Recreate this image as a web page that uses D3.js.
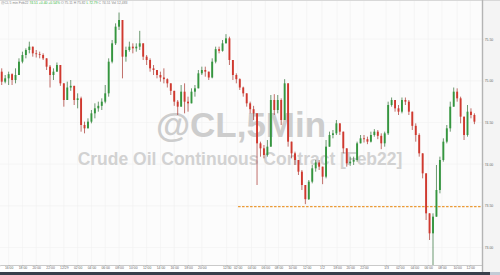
<!DOCTYPE html>
<html>
<head>
<meta charset="utf-8">
<title>@CL,5Min</title>
<script src="https://cdn.jsdelivr.net/npm/d3@7"></script>
<style>
  html, body { margin: 0; padding: 0; background: #fff; }
  svg { display: block; font-family: "Liberation Sans", Arial, sans-serif; }
  .axis text { fill: #666; font-size: 3.4px; }
  .axis line { stroke: #999; stroke-width: 0.5; }
</style>
</head>
<body>
<div id="chart"></div>
<script>
var width = 500, height = 275;
var plotRight = 482, plotBottom = 265;

// 30 min buckets, open = previous close
var firstOpen = 75.11;
var closes = [
  74.99,75.03,75.08,75.01,75.07,75.23,75.31,75.37,75.41,75.33,
  75.32,75.31,75.27,75.17,75.07,75.11,75.19,74.97,74.77,74.92,
  74.94,74.77,74.79,74.47,74.43,74.51,74.61,74.67,74.70,74.75,
  74.85,75.23,75.45,75.65,75.73,75.29,75.37,75.41,75.39,75.41,
  75.45,75.29,75.25,75.15,75.13,75.07,75.04,75.02,74.97,74.88,
  74.75,74.69,74.87,74.75,74.73,74.87,74.91,75.09,75.13,75.11,
  75.04,75.23,75.38,75.36,75.45,75.51,75.25,75.07,75.02,74.92,
  74.85,74.73,74.66,74.61,74.25,74.19,74.11,74.21,74.77,74.65,
  74.77,74.53,74.97,74.27,74.13,74.05,73.91,73.75,73.58,73.79,
  73.95,74.02,73.97,73.85,74.21,74.35,74.37,74.49,74.39,74.19,
  74.01,74.03,74.05,74.25,74.31,74.30,74.27,74.35,74.39,74.34,
  74.25,74.37,74.71,74.77,74.67,74.63,74.77,74.75,74.63,74.46,
  74.35,74.13,73.89,73.41,73.17,73.37,73.69,74.05,74.27,74.43,
  74.69,74.87,74.79,74.57,74.35,74.63,74.59,74.51
];
var highs = [
  75.15,75.07,75.11,75.09,75.15,75.27,75.35,75.39,75.47,75.41,
  75.37,75.35,75.33,75.27,75.19,75.15,75.22,75.19,74.97,74.99,
  75.01,74.93,74.85,74.81,74.51,74.55,74.65,74.73,74.75,74.79,
  74.95,75.27,75.49,75.69,75.82,75.73,75.41,75.47,75.45,75.45,
  75.60,75.45,75.31,75.27,75.19,75.13,75.11,75.15,75.03,74.97,
  74.87,74.77,74.95,74.97,74.81,74.91,74.95,75.13,75.17,75.17,
  75.11,75.27,75.41,75.41,75.49,75.56,75.53,75.25,75.09,75.03,
  74.93,74.85,74.75,74.70,74.61,74.27,74.23,74.29,74.83,74.84,
  74.83,74.79,75.02,74.97,74.27,74.15,74.05,73.93,73.75,73.81,
  73.99,74.05,74.05,73.97,74.29,74.39,74.41,74.53,74.49,74.39,
  74.19,74.09,74.09,74.27,74.35,74.35,74.33,74.39,74.42,74.41,
  74.37,74.39,74.75,74.80,74.77,74.71,74.80,74.80,74.77,74.63,
  74.49,74.37,74.13,73.89,73.41,73.41,73.99,74.09,74.31,74.47,
  74.75,74.92,74.91,74.81,74.57,74.71,74.67,74.61
];
var lows = [
  74.95,74.97,74.95,74.95,74.97,75.07,75.21,75.27,75.33,75.29,
  75.28,75.27,75.25,75.13,74.92,75.01,75.11,74.94,74.69,74.77,
  74.88,74.71,74.67,74.39,74.37,74.43,74.49,74.55,74.63,74.65,
  74.73,74.81,75.21,75.43,75.61,75.03,75.23,75.35,75.33,75.35,
  75.37,75.25,75.19,75.11,75.07,75.03,74.99,74.97,74.92,74.83,
  74.70,74.59,74.69,74.61,74.63,74.75,74.81,74.92,75.07,75.05,
  75.01,75.03,75.21,75.33,75.35,75.45,75.19,75.01,74.97,74.89,
  74.81,74.69,74.61,74.53,73.75,74.09,74.07,74.09,74.21,74.59,
  74.61,74.47,74.53,74.21,74.07,73.99,73.87,73.69,73.52,73.57,
  73.77,73.91,73.93,73.76,73.83,74.21,74.31,74.35,74.35,74.13,
  73.97,73.98,73.99,74.03,74.25,74.26,74.24,74.26,74.33,74.30,
  74.18,74.21,74.35,74.69,74.63,74.59,74.61,74.71,74.59,74.41,
  74.27,74.09,73.83,73.33,73.09,72.79,73.37,73.65,74.03,74.25,
  74.39,74.69,74.75,74.49,74.29,74.33,74.55,74.48
];
var barHours = 0.5;

// time axis, in hours from the first bar
var tickHours = [1,3,5,7,9,11,13,15,17,19,21,23,25,27,29,
  32.6,34.2,36.2,38.2,40.1,42.1,44.2,46.4,48.6,50.5,52.5,
  55.7,57.7,59.8,61.8,63.8,66,67.9];
var tickLabels = ["16:00","18:00","20:00","22:00","12/29","02:00","04:00","06:00","08:00","10:00","12:00","14:00","16:00","18:00","20:00",
  "12/30","02:00","04:00","06:00","08:00","10:00","12:00","1/2","18:00","20:00","22:00",
  "1/3","02:00","04:00","06:00","08:00","10:00","12:00"];
var priceTicks = [73.00, 73.50, 74.00, 74.50, 75.00, 75.50];

var supportLevel = 73.49;
var supportFromHour = 34.25;

var candles = closes.map(function(c, i) {
  var o = i === 0 ? firstOpen : closes[i - 1];
  return {
    t: i * barHours, o: o, c: c,
    h: Math.max(highs[i], o, c),
    l: Math.min(lows[i], o, c)
  };
});

var x = d3.scaleLinear().domain([-0.25, 69.6]).range([0, plotRight]);
var y = d3.scaleLinear().domain([72.79, 75.97]).range([plotBottom, 0]);

var svg = d3.select("#chart").append("svg")
  .attr("width", width)
  .attr("height", height);

// backgrounds
svg.append("rect").attr("width", width).attr("height", height).attr("fill", "#ffffff");
svg.append("rect").attr("x", 0).attr("y", 0).attr("width", plotRight).attr("height", plotBottom).attr("fill", "#fcfcfc");
svg.append("rect").attr("x", plotRight).attr("y", 0).attr("width", width - plotRight).attr("height", 272).attr("fill", "#f4f4f4");
svg.append("rect").attr("x", 0).attr("y", 0).attr("width", width).attr("height", 1).attr("fill", "#d8d8d8");

// faint grid
svg.append("g").selectAll("line").data(tickHours).enter().append("line")
  .attr("x1", function(d) { return x(d); }).attr("x2", function(d) { return x(d); })
  .attr("y1", 1).attr("y2", plotBottom)
  .attr("stroke", "#f0f0f0").attr("stroke-width", 0.6);
svg.append("g").selectAll("line").data(priceTicks).enter().append("line")
  .attr("x1", 0).attr("x2", plotRight)
  .attr("y1", function(d) { return y(d); }).attr("y2", function(d) { return y(d); })
  .attr("stroke", "#f2f2f2").attr("stroke-width", 0.6);

// watermark
var wm = svg.append("g").attr("font-weight", "bold").attr("text-anchor", "middle");
wm.append("text").attr("x", 241).attr("y", 137)
  .attr("font-size", 35).attr("fill", "#cdcdcd").text("@CL,5Min");
wm.append("text").attr("x", 240).attr("y", 165)
  .attr("font-size", 17.5).attr("fill", "#d2d2d2").text("Crude Oil Continuous Contract [Feb22]");

// support line
svg.append("line")
  .attr("x1", x(supportFromHour)).attr("x2", plotRight)
  .attr("y1", y(supportLevel)).attr("y2", y(supportLevel))
  .attr("stroke", "#eb9a35").attr("stroke-width", 1.1)
  .attr("stroke-dasharray", "2.5,1.5");

// candles
var bw = (x(barHours) - x(0)) * 0.55;
var up = "#35963f", down = "#d0392f";
var g = svg.append("g");
var cg = g.selectAll("g").data(candles).enter().append("g");
cg.append("line")
  .attr("x1", function(d) { return x(d.t); })
  .attr("x2", function(d) { return x(d.t); })
  .attr("y1", function(d) { return y(d.h); })
  .attr("y2", function(d) { return y(d.l); })
  .attr("stroke", function(d) { return d.c >= d.o ? "#2c6e33" : "#a8322b"; })
  .attr("stroke-width", 0.7);
cg.append("rect")
  .attr("x", function(d) { return x(d.t) - bw / 2; })
  .attr("width", bw)
  .attr("y", function(d) { return y(Math.max(d.o, d.c)); })
  .attr("height", function(d) { return Math.max(0.7, Math.abs(y(d.o) - y(d.c))); })
  .attr("fill", function(d) { return d.c >= d.o ? up : down; });

// axes
var xAxis = d3.axisBottom(x)
  .tickValues(tickHours)
  .tickFormat(function(d, i) { return tickLabels[i]; })
  .tickSize(1.2).tickPadding(0.6);
var gx = svg.append("g").attr("class", "axis")
  .attr("transform", "translate(0," + plotBottom + ")")
  .call(xAxis);
gx.select(".domain").attr("stroke", "#bdbdbd").attr("stroke-width", 0.8);

var yAxis = d3.axisRight(y)
  .tickValues(priceTicks)
  .tickFormat(d3.format(".2f"))
  .tickSize(1.2).tickPadding(1.5);
var gy = svg.append("g").attr("class", "axis")
  .attr("transform", "translate(" + plotRight + ",0)")
  .call(yAxis);
gy.select(".domain").remove();
svg.append("line")
  .attr("x1", plotRight + 0.5).attr("x2", plotRight + 0.5)
  .attr("y1", 0).attr("y2", 272)
  .attr("stroke", "#b4b4b4").attr("stroke-width", 1.4);

// header quote line
var hdr = svg.append("text").attr("x", 1).attr("y", 4).attr("font-size", 3.4).attr("fill", "#888");
hdr.append("tspan").text("@CL 5 min  Feb22  ");
hdr.append("tspan").attr("fill", "#34b53a").text("74.51 +0.40 +0.54%  ");
hdr.append("tspan").text("O 75.11 H 75.82  ");
hdr.append("tspan").attr("fill", "#34b53a").text("L 72.79");
hdr.append("tspan").text("  C 74.51  Vol 12,483");

// status strip at the bottom
svg.append("rect").attr("x", 0).attr("y", 272).attr("width", width).attr("height", 3).attr("fill", "#3a404c");
svg.append("rect").attr("x", 490).attr("y", 272).attr("width", 10).attr("height", 3).attr("fill", "#c3cbd6");
</script>
</body>
</html>
